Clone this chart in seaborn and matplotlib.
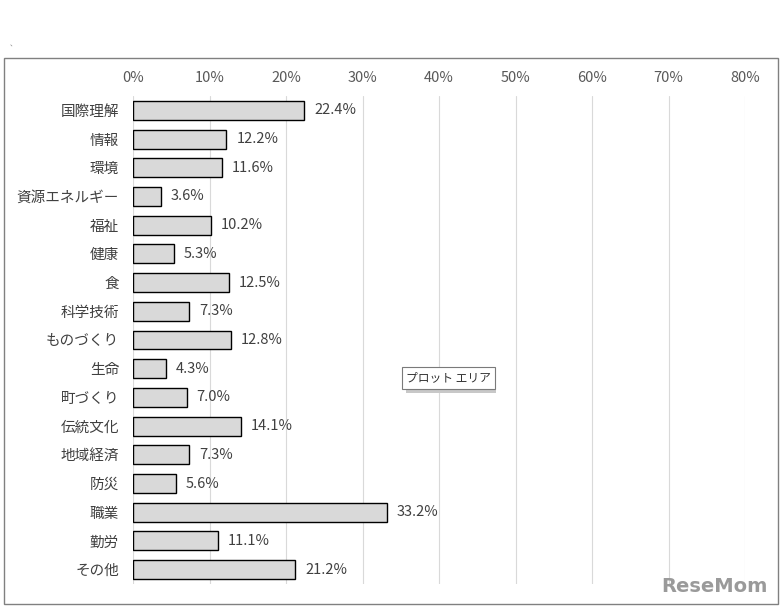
import pandas as pd
import matplotlib.pyplot as plt
import matplotlib.patches as patches
import seaborn as sns

# data
categories = ["国際理解", "情報", "環境", "資源エネルギー", "福祉", "健康", "食", "科学技術",
              "ものづくり", "生命", "町づくり", "伝統文化", "地域経済", "防災", "職業", "勤労", "その他"]
values = [22.4, 12.2, 11.6, 3.6, 10.2, 5.3, 12.5, 7.3, 12.8, 4.3, 7.0, 14.1, 7.3, 5.6, 33.2, 11.1, 21.2]
xticks = [0, 10, 20, 30, 40, 50, 60, 70, 80]

df = pd.DataFrame({"category": categories, "value": values})

sns.set_style("white")
plt.rcParams["font.family"] = ["Noto Sans CJK JP", "DejaVu Sans"]

fig = plt.figure(figsize=(7.83, 6.10), dpi=100)
ax = fig.add_axes([133 / 783, 1 - 584 / 610, (745 - 133) / 783, (584 - 96) / 610])

sns.barplot(data=df, x="value", y="category", ax=ax, color="#d9d9d9",
            edgecolor="black", linewidth=1.0, width=0.66, saturation=1)

for i, v in enumerate(values):
    ax.text(v + 1.3, i, f"{v:.1f}%", va="center", ha="left", fontsize=10.5, color="#404040")

ax.set_xlim(0, 80)
ax.set_ylim(len(categories) - 0.5, -0.5)
ax.set_xticks(xticks)
ax.set_xticklabels([f"{t}%" for t in xticks])
ax.xaxis.tick_top()
ax.tick_params(axis="x", length=0, pad=8, labelsize=10.5, labelcolor="#595959")
ax.tick_params(axis="y", length=0, pad=10, labelsize=10.5, labelcolor="#404040")
ax.set_xlabel("")
ax.set_ylabel("")
ax.grid(True, axis="x", color="#d9d9d9", linewidth=0.8)
ax.set_axisbelow(True)
for s in ax.spines.values():
    s.set_visible(False)

# chart frame
fig.add_artist(patches.Rectangle((4 / 783, 1 - 604 / 610), 774 / 783, 546 / 610,
                                 transform=fig.transFigure, fill=False,
                                 edgecolor="#808080", linewidth=1.0))

# excel tooltip left on the screenshot (with a small shadow)
fig.add_artist(patches.Rectangle((406 / 783, 1 - 393 / 610), 90 / 783, 22 / 610,
                                 transform=fig.transFigure, facecolor="#c8c8c8",
                                 edgecolor="none"))
fig.text(406 / 783, 1 - 378 / 610, "プロット エリア", fontsize=8.5, color="#333333", va="center",
         bbox=dict(boxstyle="square,pad=0.35", facecolor="white", edgecolor="#7a7a7a", linewidth=0.8))

fig.text(10 / 783, 1 - 46 / 610, "、", fontsize=5, color="#808080")

# watermark
fig.text(768 / 783, 1 - 586 / 610, "ReseMom", fontsize=14, fontweight="bold",
         color="#9a9a9a", ha="right", va="center", family=["DejaVu Sans"])

fig.savefig("out.png", dpi=100)
